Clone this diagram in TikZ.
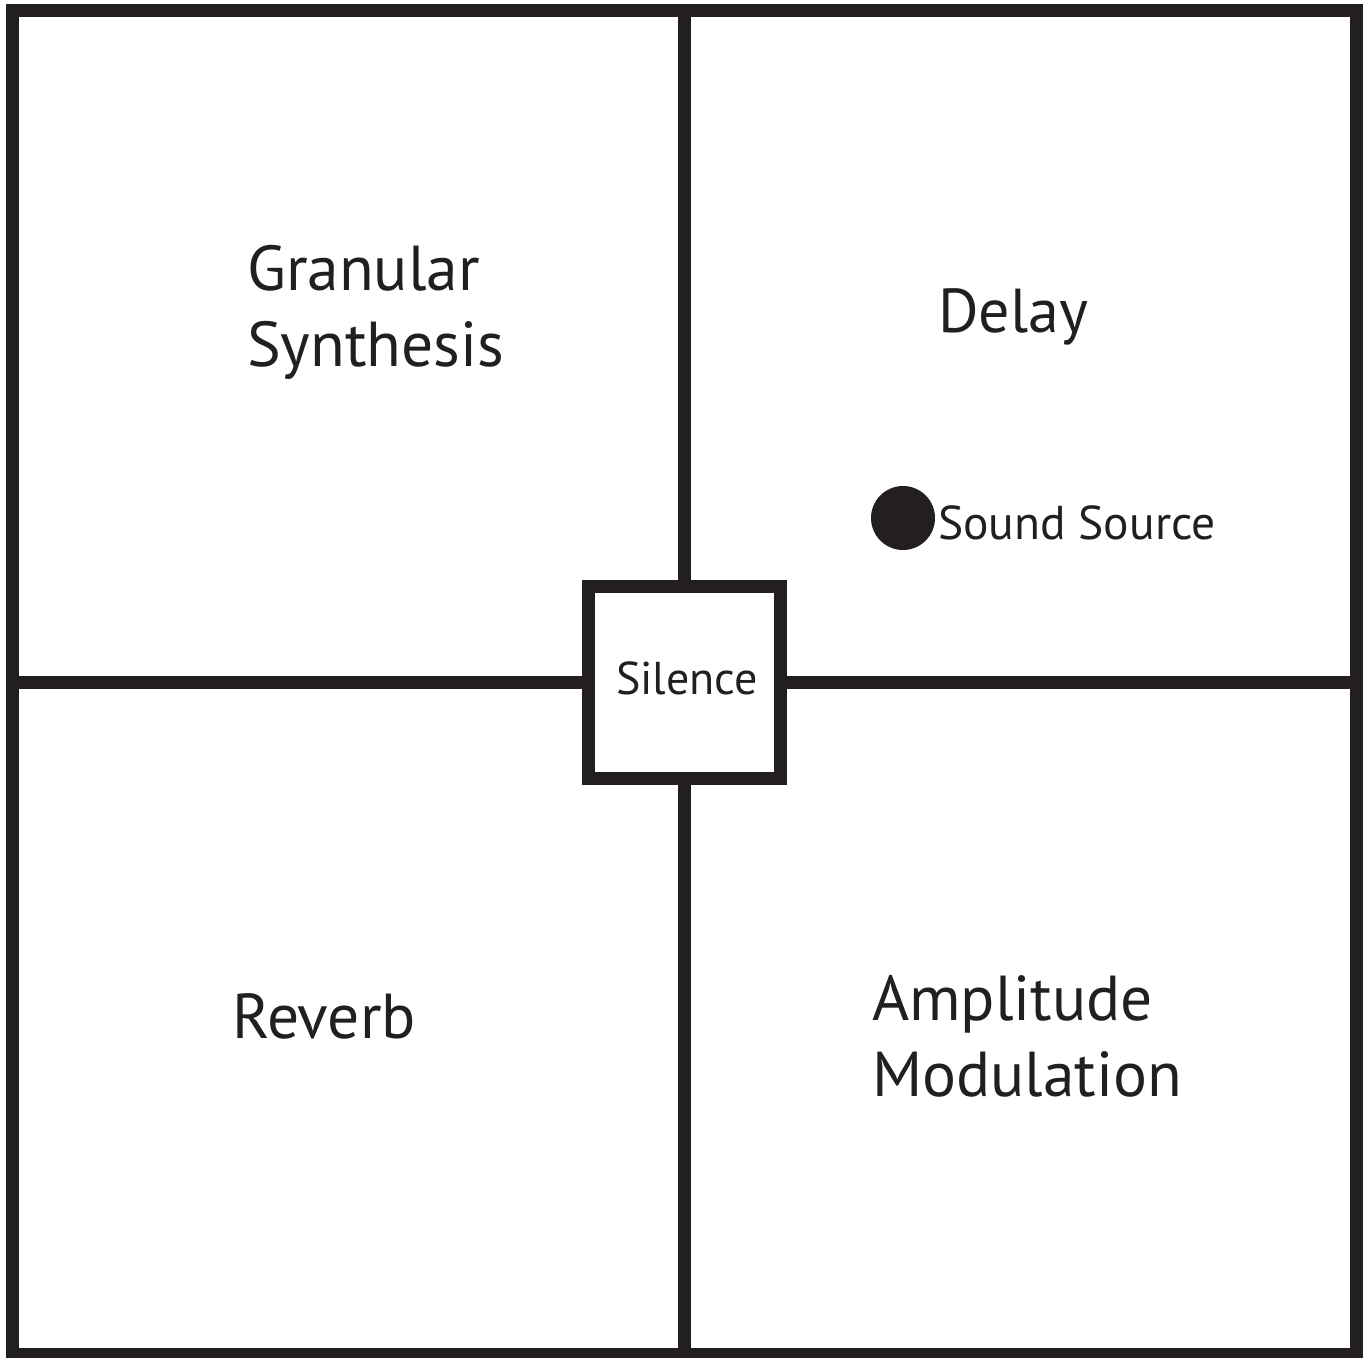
\documentclass[tikz,border=0pt]{standalone}
\usepackage{fontspec}
\setmainfont{PT Sans}
\definecolor{ink}{HTML}{231F20}
\begin{document}
\begin{tikzpicture}[x=1pt,y=-1pt,
  wall/.style={draw=ink,line width=13pt},
  biglabel/.style={anchor=base west,inner sep=0pt,text=ink,font=\fontsize{63.5}{76}\selectfont},
  smalllabel/.style={anchor=base west,inner sep=0pt,text=ink,font=\fontsize{47.5}{60}\selectfont}]
\useasboundingbox (0,0) rectangle (1364,1357);
\draw[wall] (12,10.5) rectangle (1356,1354);
\draw[wall] (684,10.5) -- (684,1354);
\draw[wall] (12,682.5) -- (1356,682.5);
\draw[wall,fill=white] (588.5,586.5) rectangle (780.5,778.5);
\node[smalllabel,font=\fontsize{46}{60}\selectfont] (silence) at (616,694) {Silence};
\node[biglabel] (gran) at (247,290) {Granular};
\node[biglabel] (synth) at (247,366) {Synthesis};
\node[biglabel,font=\fontsize{62}{76}\selectfont] (delay) at (938,332) {Delay};
\node[biglabel] (reverb) at (232,1038) {Reverb};
\node[biglabel] (ampl) at (872,1020) {Amplitude};
\node[biglabel] (modul) at (872,1096) {Modulation};
\fill[ink] (903,518) circle (32);
\node[smalllabel] (source) at (938,539) {Sound Source};
\end{tikzpicture}
\end{document}
